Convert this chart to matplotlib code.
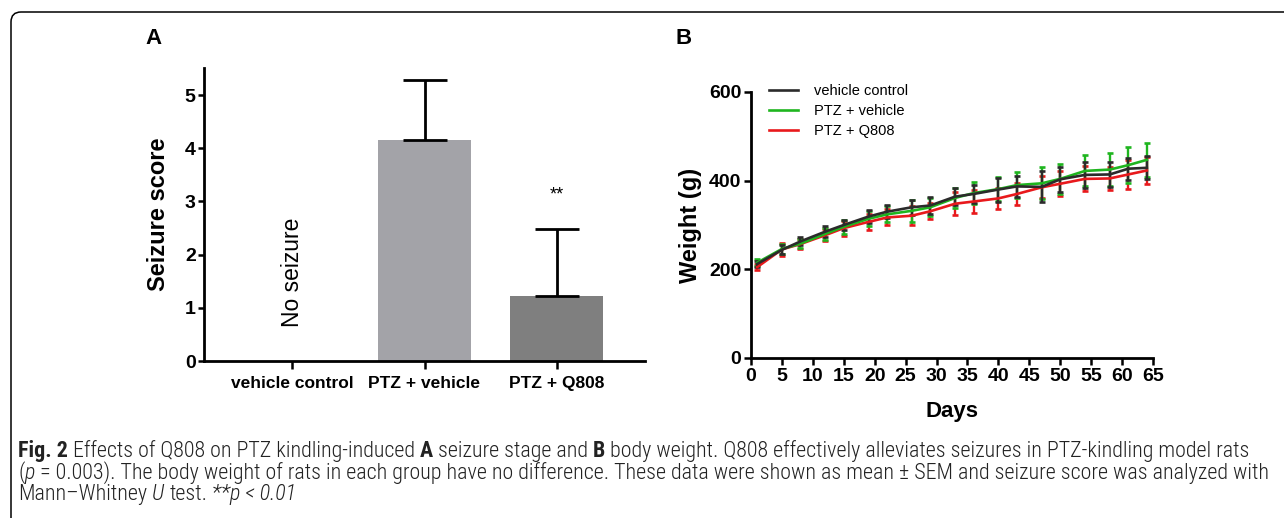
import numpy as np
import matplotlib
matplotlib.use('Agg')
import matplotlib.pyplot as plt
from matplotlib import font_manager
from matplotlib.patches import FancyBboxPatch
from matplotlib.transforms import IdentityTransform

# panel A: seizure score
groups = ['vehicle control', 'PTZ + vehicle', 'PTZ + Q808']
scores = [0.0, 4.15, 1.23]
score_sem = [0.0, 1.13, 1.26]

# panel B: body weight
days = [1, 5, 8, 12, 15, 19, 22, 26, 29, 33, 36, 40, 43, 47, 50, 54, 58, 61, 64]
w_control = [212, 244, 263, 285, 300, 319, 330, 340, 344, 364, 370, 380, 387, 386, 403, 413, 414, 427, 429]
w_ptz = [215, 246, 258, 280, 296, 314, 324, 332, 340, 361, 372, 381, 390, 394, 404, 422, 425, 435, 447]
w_q808 = [205, 245, 257, 277, 293, 307, 317, 321, 331, 348, 353, 360, 370, 385, 393, 404, 405, 414, 423]
e_control = [7, 10, 9, 12, 12, 14, 15, 17, 20, 20, 20, 27, 23, 35, 28, 29, 29, 25, 26]
e_ptz = [8, 11, 10, 14, 16, 17, 18, 25, 20, 22, 25, 27, 30, 36, 34, 35, 38, 40, 38]
e_q808 = [6, 14, 12, 13, 17, 18, 18, 22, 18, 26, 26, 24, 24, 25, 28, 28, 25, 32, 30]

# caption, (text, style, space before)
cap_lines = [
    [("Fig. 2", "bold", False), ("Effects of Q808 on PTZ kindling-induced", "", True),
     ("A", "bold", True), ("seizure stage and", "", True), ("B", "bold", True),
     ("body weight. Q808 effectively alleviates seizures in PTZ-kindling model rats", "", True)],
    [("(", "", False), ("p", "italic", False),
     ("= 0.003). The body weight of rats in each group have no difference. These data were "
      "shown as mean \u00b1 SEM and seizure score was analyzed with", "", True)],
    [("Mann\u2013Whitney", "", False), ("U", "italic", True), ("test.", "", True),
     ("**p < 0.01", "italic", True)],
]

W, H = 1284, 518


def pick_font(names):
    have = {f.name for f in font_manager.fontManager.ttflist}
    for n in names:
        if n in have:
            return n
    return 'DejaVu Sans'


def px_axes(fig, left, top, right, bottom):
    return fig.add_axes([left / W, 1 - bottom / H, (right - left) / W, (bottom - top) / H])


def draw_line(fig, segs, x0, y0, size, family, color):
    r = fig.canvas.get_renderer()
    t1 = fig.text(0, 0, "a a", fontsize=size, family=family)
    t2 = fig.text(0, 0, "aa", fontsize=size, family=family)
    space = t1.get_window_extent(r).width - t2.get_window_extent(r).width
    t1.remove()
    t2.remove()
    x = x0
    arts = []
    for text, style, gap in segs:
        if gap:
            x += space
        t = fig.text(x, y0, text, transform=IdentityTransform(), fontsize=size, family=family,
                     fontweight='bold' if style == 'bold' else 'light',
                     fontstyle='italic' if style == 'italic' else 'normal',
                     ha='left', va='baseline', color=color)
        x += t.get_window_extent(r).width
        arts.append(t)
    return arts, x - x0


def main():
    main_font = pick_font(['Liberation Sans', 'Arial', 'DejaVu Sans'])
    cap_font = pick_font(['Liberation Sans Narrow', 'Roboto Condensed', 'Open Sans Condensed',
                          'Lato', 'Liberation Sans'])
    plt.rcParams['font.family'] = main_font

    fig = plt.figure(figsize=(W / 100, H / 100), dpi=100)

    # ---- panel A
    axA = px_axes(fig, 204, 361 - 5.5 * 53.2, 645, 361)
    x = np.arange(len(groups))
    axA.bar(x, scores, width=0.7, color=['#ffffff', '#a3a3a8', '#7f7f7f'], linewidth=0, zorder=2)
    axA.errorbar(x[1:], scores[1:], yerr=[np.zeros(2), score_sem[1:]], fmt='none',
                 ecolor='black', elinewidth=2, capsize=16, capthick=2, zorder=3)
    axA.set_xlim(-0.67, 2.67)
    axA.set_ylim(0, 5.5)
    axA.set_yticks(range(6))
    axA.set_xticks(x)
    axA.set_xticklabels(groups, fontsize=12.5, fontweight='bold')
    for lab in axA.get_yticklabels():
        lab.set_fontweight('bold')
        lab.set_fontsize(14)
    axA.spines['top'].set_visible(False)
    axA.spines['right'].set_visible(False)
    axA.spines['left'].set_linewidth(2)
    axA.spines['bottom'].set_linewidth(2)
    axA.tick_params(axis='y', width=1.8, length=4.5, pad=1.5)
    axA.tick_params(axis='x', width=1.8, length=6, pad=5)
    axA.set_ylabel('Seizure score', fontsize=17, fontweight='bold', labelpad=11)
    axA.text(0, 1.67, 'No seizure', rotation=90, ha='center', va='center', fontsize=16.5)
    axA.text(2, 3.12, '**', ha='center', va='center', fontsize=13)

    # ---- panel B
    axB = px_axes(fig, 751, 92, 1153, 358)
    series = [(w_q808, e_q808, '#e8191c', 'PTZ + Q808'),
              (w_ptz, e_ptz, '#1fb51f', 'PTZ + vehicle'),
              (w_control, e_control, '#2b2b2b', 'vehicle control')]
    handles = {}
    for vals, err, c, name in series:
        eb = axB.errorbar(days, vals, yerr=err, color=c, lw=1.9, elinewidth=1.7,
                          capsize=2.2, capthick=1.9, label=name)
        handles[name] = eb[0]
    order = ['vehicle control', 'PTZ + vehicle', 'PTZ + Q808']
    axB.legend([handles[n] for n in order], order, loc='upper left', bbox_to_anchor=(0.045, 1.03),
               frameon=False, fontsize=10.5, handlelength=2.0, handletextpad=1.1,
               labelspacing=0.4, borderpad=0, borderaxespad=0)
    axB.set_xlim(0, 65)
    axB.set_ylim(0, 600)
    axB.set_xticks(range(0, 66, 5))
    axB.set_yticks([0, 200, 400, 600])
    for lab in axB.get_xticklabels() + axB.get_yticklabels():
        lab.set_fontweight('bold')
        lab.set_fontsize(14)
    axB.spines['top'].set_visible(False)
    axB.spines['right'].set_visible(False)
    axB.spines['left'].set_linewidth(2)
    axB.spines['bottom'].set_linewidth(2)
    axB.tick_params(axis='both', width=1.8, length=5, pad=2)
    axB.set_ylabel('Weight (g)', fontsize=17, fontweight='bold', labelpad=5)
    axB.set_xlabel('Days', fontsize=16, fontweight='bold', labelpad=12)

    fig.text(153 / W, 1 - 38 / H, 'A', fontsize=16, fontweight='bold', ha='center', va='center')
    fig.text(684 / W, 1 - 38 / H, 'B', fontsize=16, fontweight='bold', ha='center', va='center')

    # ---- caption, size fitted so the longest line spans the box
    widest = 0
    for segs in cap_lines:
        arts, width = draw_line(fig, segs, 18, 0, 10, cap_font, '#222222')
        for a in arts:
            a.remove()
        widest = max(widest, width)
    size = 10 * 1248 / widest
    for segs, base in zip(cap_lines, [457, 479, 500]):
        draw_line(fig, segs, 18, H - base, size, cap_font, '#222222')

    # frame round figure
    frame = FancyBboxPatch((11, -60), 1400, H - 12 + 60, boxstyle='round,pad=0,rounding_size=10',
                           transform=IdentityTransform(), fill=False, lw=1.1, ec='black')
    fig.add_artist(frame)

    fig.savefig('out.png', dpi=100)


if __name__ == "__main__":
    main()
